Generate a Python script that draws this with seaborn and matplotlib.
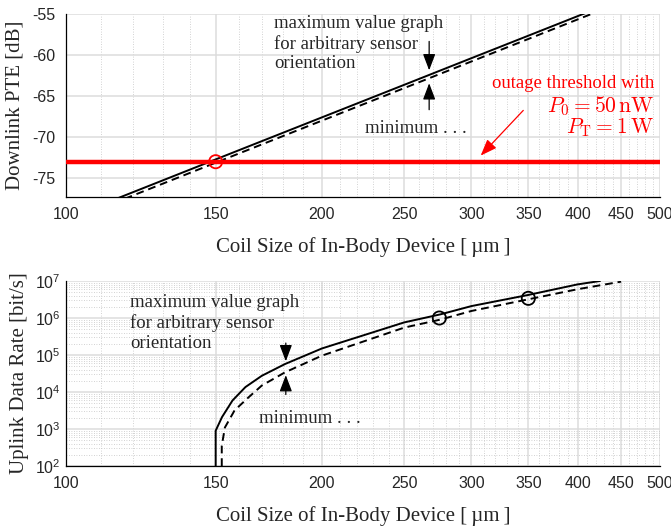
import numpy as np
import pandas as pd
import matplotlib
matplotlib.use("Agg")
import matplotlib.pyplot as plt
import seaborn as sns
from matplotlib.ticker import FixedLocator, ScalarFormatter, LogLocator, NullFormatter

# ---------------- data ----------------
coil_top = [110, 150, 200, 250, 300, 350, 400, 420]
pte_max = [-78.25, -72.72, -67.60, -63.63, -60.38, -57.64, -55.26, -54.39]
pte_min = [-78.65, -73.12, -68.00, -64.03, -60.78, -58.04, -55.66, -54.79]
threshold_db = -73.0
crossing_coil = [150]
crossing_pte = [-73.0]

coil_rate_max = [150, 150, 152.6, 157, 162.6, 170, 181, 200, 250, 276, 300, 350, 400, 425]
rate_max = [1e2, 9e2, 2.1e3, 5.9e3, 1.36e4, 2.75e4, 5.7e4, 1.5e5, 7.6e5, 1.26e6, 2.1e6, 4.2e6, 8.1e6, 1.0e7]
coil_rate_min = [152.5, 152.5, 153.8, 157.9, 164, 170, 181, 200, 250, 276, 300, 350, 400, 450]
rate_min = [1e2, 3.5e2, 1.1e3, 3.2e3, 7.2e3, 1.5e4, 3.4e4, 9.6e4, 5.5e5, 9.1e5, 1.55e6, 3.2e6, 6e6, 9.6e6]
marker_coil = [275, 350]
marker_rate = [1.0e6, 3.4e6]

x_ticks = [100, 150, 200, 250, 300, 350, 400, 450, 500]
y_ticks_top = [-75, -70, -65, -60, -55]

# ---------------- style ----------------
sns.set_style("white")
plt.rcParams["font.family"] = ["Liberation Sans", "DejaVu Sans"]
plt.rcParams["axes.unicode_minus"] = False
SERIF = ["Liberation Serif", "DejaVu Serif"]

fig = plt.figure(figsize=(6.71, 5.27), dpi=100)
ax1 = fig.add_axes([0.0984, 0.6262, 0.8852, 0.3472])
ax2 = fig.add_axes([0.0984, 0.1157, 0.8852, 0.3511])

GRID_MAJ = "#dcdcdc"
GRID_MIN = "#c4c4c4"
ARROW = "-|>,head_length=1.0,head_width=0.38"


def style_axes(ax):
    ax.set_xscale("log")
    ax.set_xlim(100, 500)
    ax.xaxis.set_major_locator(FixedLocator(x_ticks))
    ax.xaxis.set_major_formatter(ScalarFormatter())
    ax.xaxis.set_minor_locator(FixedLocator([v for v in range(110, 500, 10) if v not in x_ticks]))
    ax.xaxis.set_minor_formatter(NullFormatter())
    for s in ["top", "right"]:
        ax.spines[s].set_visible(False)
    for s in ["left", "bottom"]:
        ax.spines[s].set_color("black")
        ax.spines[s].set_linewidth(0.9)
    ax.tick_params(axis="both", which="both", direction="in", colors="black",
                   labelsize=11.5, labelcolor="#262626")
    ax.tick_params(axis="x", which="major", pad=7)
    ax.tick_params(axis="y", which="major", pad=8)
    ax.tick_params(axis="both", which="major", length=5, width=0.8)
    ax.tick_params(axis="both", which="minor", length=3, width=0.6)
    ax.grid(True, which="major", color=GRID_MAJ, linewidth=1.1, linestyle="-")
    ax.grid(True, which="minor", color=GRID_MIN, linewidth=0.6, linestyle=(0, (1, 2)))
    ax.set_axisbelow(True)
    ax.set_xlabel("Coil Size of In-Body Device [\u2009µm\u2009]", family=SERIF, fontsize=15, labelpad=11)


# ---------------- top panel ----------------
df_top = pd.DataFrame({"coil": coil_top + coil_top,
                       "pte": pte_max + pte_min,
                       "kind": ["max"] * len(coil_top) + ["min"] * len(coil_top)})
sns.lineplot(data=df_top[df_top.kind == "max"], x="coil", y="pte", ax=ax1,
             color="black", linewidth=1.4, estimator=None, sort=False)
sns.lineplot(data=df_top[df_top.kind == "min"], x="coil", y="pte", ax=ax1,
             color="black", linewidth=1.4, linestyle=(0, (4, 2.5)), estimator=None, sort=False)
ax1.axhline(threshold_db, color="#ff0000", linewidth=3.2, zorder=3)
sns.scatterplot(x=crossing_coil, y=crossing_pte, ax=ax1, marker="o", s=90,
                facecolor="none", edgecolor="#ff0000", linewidth=1.3, zorder=4)
style_axes(ax1)
ax1.set_ylim(-77.3, -55)
ax1.yaxis.set_major_locator(FixedLocator(y_ticks_top))
ax1.set_ylabel("Downlink PTE [dB]", family=SERIF, fontsize=15, labelpad=5)
ax1.grid(False, axis="y", which="minor")

ax1.text(175.7, -58.6, "maximum value graph\nfor arbitrary sensor\norientation",
         family=SERIF, fontsize=13.5, ha="left", va="center", linespacing=1.2)
ax1.annotate("", xy=(267.5, -62.2), xytext=(267.5, -58.0),
             arrowprops=dict(arrowstyle=ARROW, color="black", lw=0.9))
ax1.annotate("", xy=(267.5, -63.1), xytext=(267.5, -67.0),
             arrowprops=dict(arrowstyle=ARROW, color="black", lw=0.9))
ax1.text(225, -68.9, "minimum . . .", family=SERIF, fontsize=13.5, ha="left", va="center")

red = "#ff0000"
ax1.text(492, -63.5, "outage threshold with", family=SERIF, fontsize=13.5, color=red,
         ha="right", va="center")
ax1.text(492, -66.25, r"$P_0 = 50\,\mathrm{nW}$", fontsize=15.5, color=red, ha="right", va="center",
         math_fontfamily="cm")
ax1.text(492, -68.9, r"$P_\mathrm{T} = 1\,\mathrm{W}$", fontsize=15.5, color=red, ha="right", va="center",
         math_fontfamily="cm")
ax1.annotate("", xy=(306, -72.5), xytext=(347, -66.5),
             arrowprops=dict(arrowstyle=ARROW, color=red, lw=0.9))

# ---------------- bottom panel ----------------
sns.lineplot(x=coil_rate_max, y=rate_max, ax=ax2, color="black", linewidth=1.4,
             estimator=None, sort=False)
sns.lineplot(x=coil_rate_min, y=rate_min, ax=ax2, color="black", linewidth=1.4,
             linestyle=(0, (4, 2.5)), estimator=None, sort=False)
sns.scatterplot(x=marker_coil, y=marker_rate, ax=ax2, marker="o", s=90,
                facecolor="none", edgecolor="black", linewidth=1.3, zorder=4)
ax2.set_yscale("log")
style_axes(ax2)
ax2.set_ylim(1e2, 1e7)
ax2.yaxis.set_major_locator(LogLocator(base=10, numticks=10))
ax2.yaxis.set_minor_locator(LogLocator(base=10, subs=np.arange(2, 10), numticks=20))
ax2.yaxis.set_minor_formatter(NullFormatter())
ax2.tick_params(axis="y", which="major", pad=4)
ax2.set_ylabel("Uplink Data Rate [bit/s]", family=SERIF, fontsize=15, labelpad=4)

ax2.text(119, 7.3e5, "maximum value graph\nfor arbitrary sensor\norientation",
         family=SERIF, fontsize=13.5, ha="left", va="center", linespacing=1.2)
ax2.annotate("", xy=(181.4, 5.7e4), xytext=(181.4, 2.5e5),
             arrowprops=dict(arrowstyle=ARROW, color="black", lw=0.9))
ax2.annotate("", xy=(181.4, 3.4e4), xytext=(181.4, 7.2e3),
             arrowprops=dict(arrowstyle=ARROW, color="black", lw=0.9))
ax2.text(168.7, 1.9e3, "minimum . . .", family=SERIF, fontsize=13.5, ha="left", va="center")

fig.savefig("out.png", dpi=100)
